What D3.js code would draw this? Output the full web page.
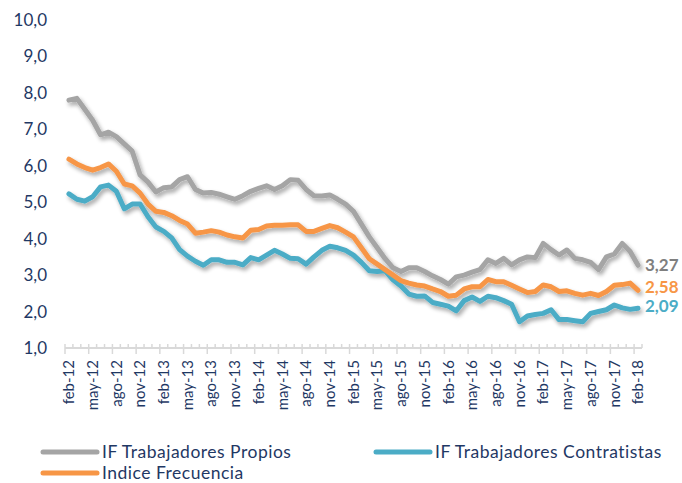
<!DOCTYPE html>
<html><head><meta charset="utf-8">
<script src="https://cdn.jsdelivr.net/npm/d3@7"></script>
<style>body{margin:0;background:#fff;} svg{display:block;}</style>
</head><body><svg id="c" width="682" height="483"></svg>
<script>
const months = ["feb-12","mar-12","abr-12","may-12","jun-12","jul-12","ago-12","sep-12","oct-12","nov-12","dic-12","ene-13",
"feb-13","mar-13","abr-13","may-13","jun-13","jul-13","ago-13","sep-13","oct-13","nov-13","dic-13","ene-14",
"feb-14","mar-14","abr-14","may-14","jun-14","jul-14","ago-14","sep-14","oct-14","nov-14","dic-14","ene-15",
"feb-15","mar-15","abr-15","may-15","jun-15","jul-15","ago-15","sep-15","oct-15","nov-15","dic-15","ene-16",
"feb-16","mar-16","abr-16","may-16","jun-16","jul-16","ago-16","sep-16","oct-16","nov-16","dic-16","ene-17",
"feb-17","mar-17","abr-17","may-17","jun-17","jul-17","ago-17","sep-17","oct-17","nov-17","dic-17","ene-18",
"feb-18"];
const tickLabels = ["feb-12","may-12","ago-12","nov-12","feb-13","may-13","ago-13","nov-13","feb-14","may-14","ago-14","nov-14",
"feb-15","may-15","ago-15","nov-15","feb-16","may-16","ago-16","nov-16","feb-17","may-17","ago-17","nov-17","feb-18"];
const yTicks = [1,2,3,4,5,6,7,8,9,10];

const propios = [7.80,7.85,7.55,7.25,6.85,6.92,6.80,6.60,6.40,5.75,5.55,5.28,
5.40,5.42,5.62,5.70,5.35,5.25,5.27,5.22,5.15,5.08,5.18,5.30,
5.38,5.45,5.35,5.45,5.62,5.60,5.35,5.18,5.17,5.20,5.08,4.95,
4.75,4.40,4.05,3.75,3.45,3.20,3.10,3.20,3.20,3.10,2.98,2.88,
2.75,2.95,3.00,3.08,3.15,3.42,3.32,3.46,3.28,3.42,3.50,3.48,
3.87,3.70,3.55,3.69,3.46,3.42,3.35,3.15,3.50,3.58,3.87,3.65,
3.27];
const contratistas = [5.23,5.08,5.03,5.15,5.42,5.47,5.30,4.82,4.95,4.95,4.60,4.32,
4.20,4.02,3.70,3.52,3.38,3.27,3.42,3.42,3.35,3.35,3.28,3.48,
3.42,3.55,3.68,3.58,3.46,3.45,3.30,3.50,3.68,3.79,3.75,3.68,
3.55,3.35,3.12,3.10,3.12,2.87,2.70,2.48,2.42,2.43,2.25,2.20,
2.15,2.02,2.30,2.40,2.28,2.42,2.38,2.30,2.20,1.72,1.88,1.92,
1.95,2.05,1.78,1.78,1.75,1.72,1.95,2.00,2.05,2.18,2.10,2.06,
2.09];
const indice = [6.18,6.05,5.95,5.88,5.95,6.05,5.85,5.50,5.45,5.25,4.95,4.75,
4.72,4.63,4.50,4.40,4.15,4.18,4.22,4.18,4.10,4.05,4.02,4.23,
4.25,4.35,4.37,4.37,4.38,4.38,4.20,4.20,4.28,4.36,4.30,4.18,
4.05,3.75,3.45,3.30,3.15,3.00,2.85,2.78,2.73,2.70,2.62,2.55,
2.42,2.45,2.62,2.68,2.68,2.88,2.82,2.82,2.72,2.62,2.52,2.55,
2.73,2.68,2.55,2.57,2.50,2.45,2.50,2.44,2.55,2.72,2.74,2.78,
2.58];
const seriesNames = ["IF Trabajadores Propios","IF Trabajadores Contratistas","Indice Frecuencia"];
const seriesColors = ["#A5A5A5","#4BACC6","#F79646"];
const endColors = ["#7F7F7F","#4BACC6","#F79646"];

const svg = d3.select("#c");
const font = "Lato, 'Open Sans', sans-serif";
const navy = "#1F3864";

const x = d3.scaleBand().domain(months).range([65, 642]).paddingInner(0).paddingOuter(0);
const y = d3.scaleLinear().domain([1, 10]).range([348, 20]);

const defs = svg.append("defs");
const f = defs.append("filter").attr("id","sh").attr("x","-10%").attr("y","-10%").attr("width","120%").attr("height","130%");
f.append("feGaussianBlur").attr("in","SourceAlpha").attr("stdDeviation",2).attr("result","b");
f.append("feOffset").attr("in","b").attr("dx",2).attr("dy",3).attr("result","o");
f.append("feComponentTransfer").attr("in","o").attr("result","o2")
  .append("feFuncA").attr("type","linear").attr("slope",0.35);
const m = f.append("feMerge");
m.append("feMergeNode").attr("in","o2");
m.append("feMergeNode").attr("in","SourceGraphic");

// Y axis labels
const yAxis = d3.axisLeft(y).tickValues(yTicks).tickSize(0).tickPadding(0)
  .tickFormat(d => d3.format(".1f")(d).replace(".", ","));
const gy = svg.append("g").attr("transform","translate(47,0)").call(yAxis);
gy.select(".domain").remove();
gy.selectAll("text").attr("fill", navy).style("font-family", font).style("font-size","17px");

// X axis
const axisY = y(1);
const gx = svg.append("g").attr("transform", `translate(0,${axisY})`);
gx.append("line").attr("x1",65).attr("x2",642).attr("stroke","#D9D9D9").attr("stroke-width",2);
const bounds = d3.range(months.length + 1);
gx.selectAll("line.tk").data(bounds).join("line").attr("class","tk")
  .attr("x1", i => i < months.length ? x(months[i]) : x.range()[1])
  .attr("x2", i => i < months.length ? x(months[i]) : x.range()[1])
  .attr("y1", -4).attr("y2", i => (i % 3 === 0 ? 6 : 0))
  .attr("stroke","#D9D9D9").attr("stroke-width",1.5);
gx.selectAll("text").data(tickLabels).join("text")
  .attr("transform", d => `translate(${x(d) + x.bandwidth()/2},12) rotate(-90)`)
  .attr("text-anchor","end").attr("dy","0.35em")
  .attr("fill", navy).style("font-family", font).style("font-size","15px")
  .text(d => d);

// Lines
const data = [propios, contratistas, indice];
const line = d3.line().x((d,i) => x(months[i]) + x.bandwidth()/2).y(d => y(d));
svg.append("g").attr("filter","url(#sh)").selectAll("path").data(data).join("path")
  .attr("d", line).attr("fill","none")
  .attr("stroke", (d,i) => seriesColors[i]).attr("stroke-width",5)
  .attr("stroke-linejoin","round").attr("stroke-linecap","round");

// End labels
const endLabelY = [265, 306, 287];
svg.selectAll("text.end").data(data).join("text").attr("class","end")
  .attr("x", 645).attr("y", (d,i) => endLabelY[i]).attr("dy","0.35em")
  .attr("fill", (d,i) => endColors[i])
  .style("font-family", font).style("font-size","17px").style("font-weight","bold")
  .text(d => d3.format(".2f")(d[d.length-1]).replace(".", ","));

// Legend
const legendPos = [[43,452],[376,452],[43,473]];
const lg = svg.selectAll("g.lg").data(seriesNames).join("g").attr("class","lg")
  .attr("transform", (d,i) => `translate(${legendPos[i][0]},${legendPos[i][1]})`);
lg.append("line").attr("x1",0).attr("x2",54).attr("stroke",(d,i)=>seriesColors[i])
  .attr("stroke-width",5).attr("stroke-linecap","round");
lg.append("text").attr("x",59).attr("dy","0.35em").attr("fill",navy)
  .style("font-family",font).style("font-size","17.5px").style("letter-spacing","0.5px").text(d=>d);
</script></body></html>
